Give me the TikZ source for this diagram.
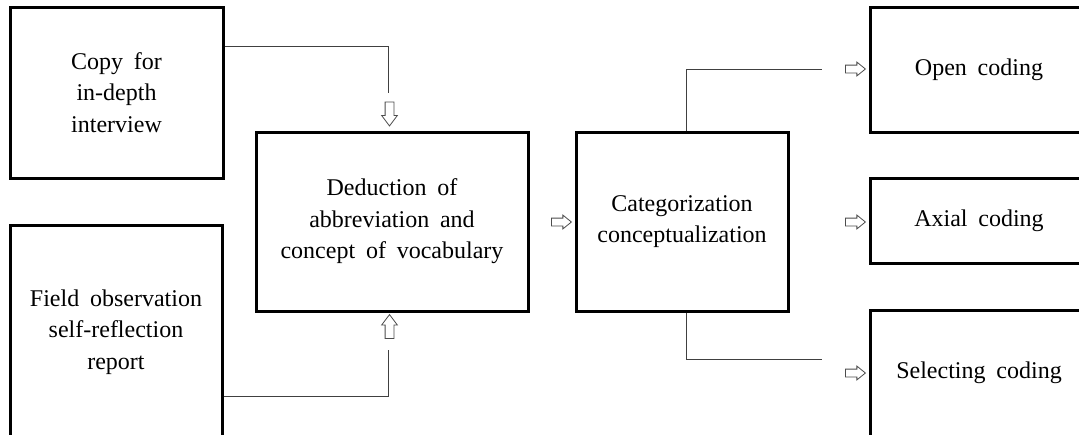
\documentclass[tikz,border=0pt]{standalone}
\usepackage{fontspec}
\setmainfont{Liberation Serif}[WordSpace=1.8]
\usetikzlibrary{shapes.arrows}
\begin{document}
\begin{tikzpicture}[x=1pt,y=1pt,
  box/.style={draw=black, line width=3pt, align=center, inner sep=0pt, font=\fontsize{24}{31.5}\selectfont},
  conn/.style={draw=black!75, line width=1pt},
  harrow/.style={single arrow, draw=black!70, line width=0.8pt, inner xsep=0pt, inner ysep=3.5pt, minimum height=20pt, single arrow head extend=3pt, single arrow tip angle=78, fill=white},
  varrow/.style={single arrow, draw=black!70, line width=0.8pt, inner xsep=0pt, inner ysep=4pt, minimum height=24pt, single arrow head extend=3.5pt, single arrow tip angle=74, fill=white}
]
\useasboundingbox (0,0) rectangle (1079,-434);
\node[box, minimum width=213pt, minimum height=171pt] (copy) at (116.5,-92.5) {Copy for\\in-depth\\interview};
\node[box, minimum width=212pt, minimum height=214pt] (field) at (116,-332) {Field observation\\self-reflection\\report};
\node[box, minimum width=272pt, minimum height=179pt] (ded) at (392,-221.5) {Deduction of\\abbreviation and\\concept of vocabulary};
\node[box, minimum width=212pt, minimum height=179pt] (cat) at (682,-221.5) {Categorization\\conceptualization};
\node[box, minimum width=218pt, minimum height=125pt] (open) at (979,-69.5) {Open coding};
\node[box, minimum width=218pt, minimum height=85pt] (axial) at (979,-220.5) {Axial coding};
\node[box, minimum width=218pt, minimum height=126pt] (sel) at (979,-373) {Selecting coding};

\node[varrow, rotate=-90] (a1) at (389.5,-111) {};
\node[varrow, rotate=90] (a2) at (389.5,-329.5) {};
\node[harrow] (a3) at (559,-222) {};
\node[harrow] (a4) at (853,-69) {};
\node[harrow] (a5) at (853,-222) {};
\node[harrow] (a6) at (853,-373) {};

\coordinate (k1) at (388,-46);
\coordinate (e1) at (388,-93);
\draw[conn] (copy.east |- k1) -- (k1) -- (e1);
\coordinate (k2) at (388,-396);
\coordinate (e2) at (388,-350);
\draw[conn] (field.east |- k2) -- (k2) -- (e2);
\coordinate (k3) at (686,-69);
\coordinate (e3) at (822,-69);
\draw[conn] (cat.north -| k3) -- (k3) -- (e3);
\coordinate (k4) at (686,-359);
\coordinate (e4) at (822,-359);
\draw[conn] (cat.south -| k4) -- (k4) -- (e4);
\end{tikzpicture}
\end{document}
